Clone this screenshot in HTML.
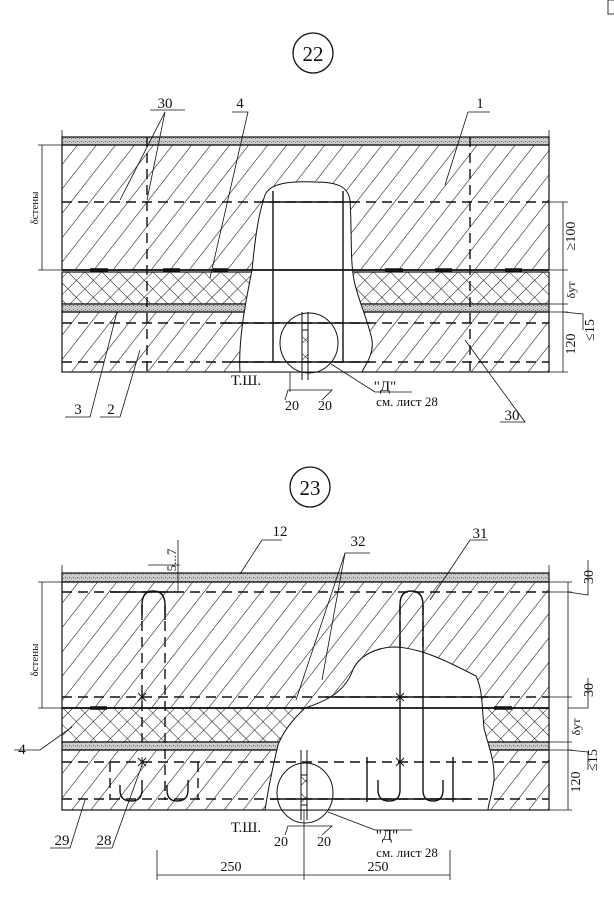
<!DOCTYPE html>
<html><head><meta charset="utf-8"><style>
html,body{margin:0;padding:0;background:#fff}
svg{display:block}
text{font-family:"Liberation Serif","DejaVu Serif",serif;fill:#111}
</style></head><body>
<svg width="614" height="910" viewBox="0 0 614 910" xmlns="http://www.w3.org/2000/svg">
<defs>
<pattern id="h" width="15" height="15" patternUnits="userSpaceOnUse" patternTransform="rotate(38)">
<line x1="0" y1="0" x2="0" y2="15" stroke="#111" stroke-width="1.1"/></pattern>
<pattern id="x" width="12" height="12" patternUnits="userSpaceOnUse" patternTransform="rotate(45)">
<line x1="0" y1="0" x2="0" y2="12" stroke="#111" stroke-width="1"/><line x1="0" y1="0" x2="12" y2="0" stroke="#111" stroke-width="1"/></pattern>
<pattern id="d" width="4" height="4" patternUnits="userSpaceOnUse">
<rect width="4" height="4" fill="#ccc"/><rect x="1" y="1" width="1" height="1" fill="#555"/><rect x="3" y="2" width="1" height="1" fill="#888"/></pattern>
</defs>
<rect x="608" y="0" width="8" height="14" fill="none" stroke="#333"/>

<!-- ===== FIG 22 ===== -->
<ellipse cx="313" cy="53" rx="20" ry="20" fill="none" stroke="#111" stroke-width="1.3"/>
<text x="313" y="61" font-size="21" text-anchor="middle">22</text>
<g stroke="#111" fill="none">
<rect x="62" y="137" width="487" height="8" fill="url(#d)" stroke-width="1.2"/>
<rect x="62" y="145" width="487" height="125" fill="url(#h)" stroke-width="1.2"/>
<rect x="62" y="272" width="487" height="32" fill="url(#x)" stroke-width="1.2"/>
<rect x="62" y="304" width="487" height="8" fill="url(#d)" stroke-width="1.2"/>
<rect x="62" y="312" width="487" height="60" fill="url(#h)" stroke-width="1.2"/>
<path d="M240 372 C238 340 246 300 252 270 C255 240 258 215 265 195 C270 183 290 181 315 182 C340 182 348 188 350 200 C352 230 350 260 354 280 C358 300 368 320 372 340 C374 355 365 365 362 372 Z" fill="#fff" stroke-width="1"/>
<line x1="62" y1="270" x2="549" y2="270" stroke-width="1.8"/>
<g stroke-width="3.5"><line x1="90" y1="270" x2="108" y2="270"/><line x1="163" y1="270" x2="180" y2="270"/><line x1="213" y1="270" x2="228" y2="270"/><line x1="385" y1="270" x2="403" y2="270"/><line x1="435" y1="270" x2="452" y2="270"/><line x1="505" y1="270" x2="522" y2="270"/></g>
<g stroke-width="1.4" stroke-dasharray="10,6"><line x1="62" y1="202" x2="549" y2="202"/><line x1="62" y1="323" x2="549" y2="323"/><line x1="62" y1="362" x2="549" y2="362"/>
<line x1="147" y1="137" x2="147" y2="372"/><line x1="470" y1="137" x2="470" y2="372"/></g>
<g stroke-width="1.4"><line x1="273" y1="191" x2="273" y2="362"/><line x1="343" y1="191" x2="343" y2="362"/>
<line x1="263" y1="202" x2="355" y2="202"/><line x1="220" y1="323" x2="370" y2="323"/><line x1="230" y1="362" x2="370" y2="362"/></g>
<rect x="302" y="330" width="6" height="32" fill="url(#x)" stroke-width="1"/>
<line x1="302" y1="312" x2="302" y2="380" stroke-width="1"/><line x1="308" y1="312" x2="308" y2="380" stroke-width="1"/>
<ellipse cx="309" cy="343" rx="29" ry="30" stroke-width="1" fill="none"/>
<line x1="42" y1="145" x2="42" y2="270" stroke-width="0.8"/><line x1="38" y1="145" x2="62" y2="145" stroke-width="0.8"/><line x1="38" y1="270" x2="62" y2="270" stroke-width="0.8"/>
<line x1="62" y1="130" x2="62" y2="137" stroke-width="0.8"/><line x1="549" y1="130" x2="549" y2="137" stroke-width="0.8"/>
<line x1="563" y1="202" x2="563" y2="372" stroke-width="0.8"/>
<g stroke-width="0.8"><line x1="549" y1="202" x2="568" y2="202"/><line x1="549" y1="270" x2="568" y2="270"/><line x1="549" y1="304" x2="568" y2="304"/><line x1="549" y1="312" x2="568" y2="312"/><line x1="549" y1="372" x2="568" y2="372"/>
<polyline points="563,312 583,314 583,330"/>
<polyline points="285,400 288,390 332,390 322,400"/>
<line x1="290" y1="372" x2="290" y2="392"/>
</g>
<g stroke-width="0.8">
<polyline points="150,110 185,110"/><line x1="165" y1="112" x2="120" y2="200"/><line x1="165" y1="112" x2="147" y2="200"/>
<polyline points="232,112 248,112 210,278"/>
<polyline points="490,112 468,112 445,185"/>
<polyline points="65,417 90,417 117,312"/><polyline points="100,417 120,417 140,350"/>
<polyline points="500,422 525,422 465,340"/>
<polyline points="375,392 412,392"/><line x1="375" y1="392" x2="331" y2="364"/>
</g>
</g>
<text x="165" y="108" font-size="15" text-anchor="middle">30</text>
<text x="240" y="108" font-size="15" text-anchor="middle">4</text>
<text x="480" y="108" font-size="15" text-anchor="middle">1</text>
<text x="78" y="414" font-size="15" text-anchor="middle">3</text>
<text x="111" y="414" font-size="15" text-anchor="middle">2</text>
<text x="512" y="420" font-size="15" text-anchor="middle">30</text>
<text x="246" y="385" font-size="15" text-anchor="middle">Т.Ш.</text>
<text x="292" y="410" font-size="14" text-anchor="middle">20</text>
<text x="325" y="410" font-size="14" text-anchor="middle">20</text>
<text x="385" y="391" font-size="15" text-anchor="middle">"Д"</text>
<text x="407" y="406" font-size="13" text-anchor="middle">см. лист 28</text>
<text transform="translate(38,208) rotate(-90)" font-size="11" text-anchor="middle">δстены</text>
<text transform="translate(575,236) rotate(-90)" font-size="14" text-anchor="middle">≥100</text>
<text transform="translate(575,290) rotate(-90)" font-size="12" text-anchor="middle">δут</text>
<text transform="translate(594,330) rotate(-90)" font-size="14" text-anchor="middle">≤15</text>
<text transform="translate(575,344) rotate(-90)" font-size="14" text-anchor="middle">120</text>

<!-- ===== FIG 23 ===== -->
<ellipse cx="310" cy="487" rx="20" ry="20" fill="none" stroke="#111" stroke-width="1.3"/>
<text x="310" y="495" font-size="21" text-anchor="middle">23</text>
<g stroke="#111" fill="none">
<rect x="62" y="573" width="487" height="9" fill="url(#d)" stroke-width="1.2"/>
<rect x="62" y="582" width="487" height="126" fill="url(#h)" stroke-width="1.2"/>
<rect x="62" y="708" width="487" height="34" fill="url(#x)" stroke-width="1.2"/>
<rect x="62" y="742" width="487" height="8" fill="url(#d)" stroke-width="1.2"/>
<rect x="62" y="750" width="487" height="60" fill="url(#h)" stroke-width="1.2"/>
<path d="M265 810 C268 790 272 770 278 745 C283 732 292 720 305 708 C330 700 345 690 352 672 C358 655 378 647 395 647 C420 648 445 660 476 676 C483 690 482 710 484 728 C488 745 495 760 494 780 C492 795 488 805 488 810 Z" fill="#fff" stroke-width="1"/>
<line x1="62" y1="708" x2="549" y2="708" stroke-width="1.8"/>
<g stroke-width="3.5"><line x1="90" y1="708" x2="107" y2="708"/><line x1="494" y1="708" x2="512" y2="708"/></g>
<g stroke-width="1.4" stroke-dasharray="10,6"><line x1="62" y1="592" x2="549" y2="592"/><line x1="62" y1="697" x2="549" y2="697"/><line x1="62" y1="762" x2="549" y2="762"/><line x1="62" y1="799" x2="549" y2="799"/>
<line x1="142" y1="605" x2="142" y2="742"/><line x1="165" y1="605" x2="165" y2="800"/><line x1="110" y1="762" x2="110" y2="800"/><line x1="198" y1="762" x2="198" y2="800"/>
<line x1="400" y1="605" x2="400" y2="650"/><line x1="423" y1="605" x2="423" y2="650"/></g>
<path d="M142 620 L142 605 Q142 591 153 591 Q165 591 165 605 L165 620" stroke-width="1.4"/>
<path d="M400 650 L400 605 Q400 591 411 591 Q423 591 423 605 L423 650" stroke-width="1.4"/>
<path d="M120 785 L120 790 Q120 801 131 801 Q142 801 142 790 L142 780" stroke-width="1.4"/>
<path d="M167 785 L167 790 Q167 801 177 801 Q188 801 188 790 L188 780" stroke-width="1.4"/>
<g stroke-width="1.4">
<line x1="400" y1="650" x2="400" y2="790"/><line x1="423" y1="650" x2="423" y2="790"/>
<path d="M378 780 L378 790 Q378 801 389 801 Q400 801 400 790"/><path d="M423 790 Q423 801 433 801 Q443 801 443 790 L443 780"/>
<line x1="367" y1="757" x2="367" y2="802"/><line x1="453" y1="757" x2="453" y2="802"/>
<line x1="325" y1="697" x2="495" y2="697"/><line x1="270" y1="799" x2="470" y2="799"/>
<line x1="110" y1="592" x2="175" y2="592" stroke-width="1.5"/>
</g>
<g stroke-width="1"><path d="M138 693 l8 8 M146 693 l-8 8 M142 692 v10"/><path d="M138 758 l8 8 M146 758 l-8 8 M142 757 v10"/>
<path d="M396 693 l8 8 M404 693 l-8 8"/><path d="M396 758 l8 8 M404 758 l-8 8"/></g>
<rect x="301" y="775" width="6" height="30" fill="url(#x)" stroke-width="1"/>
<line x1="301" y1="750" x2="301" y2="820" stroke-width="1"/><line x1="307" y1="750" x2="307" y2="820" stroke-width="1"/>
<ellipse cx="305" cy="793" rx="28" ry="30" stroke-width="1"/>
<g stroke-width="0.8">
<line x1="42" y1="582" x2="42" y2="708"/><line x1="38" y1="582" x2="62" y2="582"/><line x1="38" y1="708" x2="62" y2="708"/>
<line x1="62" y1="565" x2="62" y2="573"/><line x1="549" y1="565" x2="549" y2="573"/>
<line x1="568" y1="582" x2="568" y2="810"/>
<line x1="549" y1="582" x2="572" y2="582"/><line x1="549" y1="592" x2="572" y2="592"/><polyline points="568,592 588,595 588,560"/>
<line x1="549" y1="697" x2="572" y2="697"/><polyline points="568,708 588,708 588,678"/>
<line x1="549" y1="742" x2="572" y2="742"/><line x1="549" y1="750" x2="572" y2="750"/><polyline points="568,750 588,752 588,770"/>
<line x1="549" y1="810" x2="572" y2="810"/>
<line x1="157" y1="875" x2="450" y2="875"/><line x1="157" y1="850" x2="157" y2="880"/><line x1="304" y1="810" x2="304" y2="880"/><line x1="450" y1="850" x2="450" y2="880"/>
<polyline points="285,835 288,826 332,826 322,835"/>
<line x1="148" y1="565" x2="180" y2="565"/><line x1="178" y1="540" x2="178" y2="592"/>
<polyline points="282,540 262,540 240,574"/>
<polyline points="370,553 345,553 296,700"/><line x1="345" y1="553" x2="322" y2="680"/>
<polyline points="488,540 470,540 430,600"/>
<polyline points="14,750 40,750 72,727"/>
<polyline points="50,848 70,848 85,800"/><polyline points="95,848 112,848 142,765"/>
<polyline points="375,830 412,830"/><line x1="375" y1="830" x2="328" y2="812"/>
</g>
</g>
<text x="280" y="536" font-size="15" text-anchor="middle">12</text>
<text x="358" y="546" font-size="15" text-anchor="middle">32</text>
<text x="480" y="538" font-size="15" text-anchor="middle">31</text>
<text transform="translate(176,560) rotate(-90)" font-size="13" text-anchor="middle">5...7</text>
<text transform="translate(593,577) rotate(-90)" font-size="14" text-anchor="middle">30</text>
<text transform="translate(593,690) rotate(-90)" font-size="14" text-anchor="middle">30</text>
<text transform="translate(38,660) rotate(-90)" font-size="11" text-anchor="middle">δстены</text>
<text transform="translate(580,727) rotate(-90)" font-size="12" text-anchor="middle">δут</text>
<text transform="translate(597,760) rotate(-90)" font-size="14" text-anchor="middle">≤15</text>
<text transform="translate(580,782) rotate(-90)" font-size="14" text-anchor="middle">120</text>
<text x="22" y="754" font-size="15" text-anchor="middle">4</text>
<text x="62" y="845" font-size="15" text-anchor="middle">29</text>
<text x="104" y="845" font-size="15" text-anchor="middle">28</text>
<text x="246" y="832" font-size="15" text-anchor="middle">Т.Ш.</text>
<text x="281" y="846" font-size="14" text-anchor="middle">20</text>
<text x="324" y="846" font-size="14" text-anchor="middle">20</text>
<text x="387" y="840" font-size="15" text-anchor="middle">"Д"</text>
<text x="407" y="857" font-size="13" text-anchor="middle">см. лист 28</text>
<text x="231" y="871" font-size="14" text-anchor="middle">250</text>
<text x="378" y="871" font-size="14" text-anchor="middle">250</text>
</svg>
</body></html>
